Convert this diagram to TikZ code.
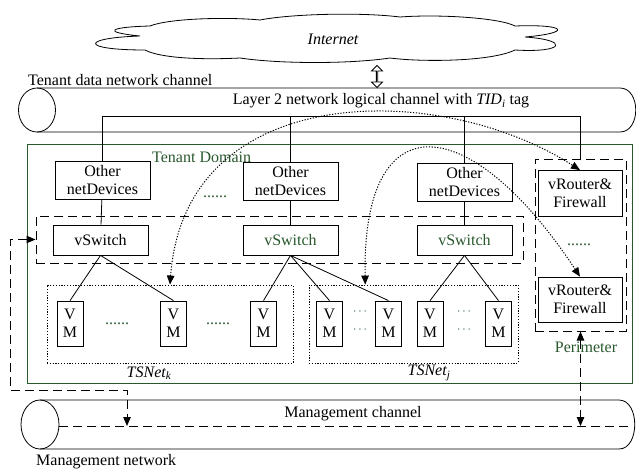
\documentclass[tikz,border=0pt]{standalone}
\usepackage{fontspec}
\setmainfont{Liberation Serif}
\usepackage{tikz}
\usetikzlibrary{positioning, shapes.geometric, shapes.arrows, arrows.meta, calc}
\definecolor{domgreen}{RGB}{40,88,44}

\begin{document}
\begin{tikzpicture}[
  x=1pt, y=-1pt,
  >={Triangle[length=9pt,width=7.5pt]},
  every node/.style={font=\fontsize{16}{18}\selectfont, inner sep=0pt},
  devbox/.style={draw, line width=0.8pt, minimum width=95pt, minimum height=38pt, align=center},
  swbox/.style={draw, line width=0.8pt, minimum width=95pt, minimum height=30pt},
  vmbox/.style={draw, line width=0.8pt, minimum width=26pt, minimum height=45pt, align=center},
  rtbox/.style={draw, line width=0.8pt, minimum width=84pt, minimum height=46pt, align=center},
  dashbox/.style={draw, line width=1pt, dash pattern=on 9pt off 5pt},
  dotbox/.style={draw, line width=0.9pt, dash pattern=on 1.2pt off 1.6pt},
  link/.style={line width=0.8pt},
  dotlink/.style={line width=1pt, dash pattern=on 1.2pt off 1.6pt, <->},
  mgmtlink/.style={line width=1pt, dash pattern=on 9pt off 5pt, <->},
  green/.style={text=domgreen}
]
\useasboundingbox (0,0) rectangle (636,469);

% ---- Internet ----
\draw[link] (140,36) .. controls (100,32) and (110,27) .. (150,26)
  .. controls (170,18) and (230,17) .. (260,20)
  .. controls (290,14) and (360,12) .. (400,17)
  .. controls (440,14) and (500,18) .. (515,26)
  .. controls (568,24) and (572,33) .. (525,37)
  .. controls (570,40) and (565,53) .. (515,50)
  .. controls (490,62) and (420,62) .. (390,58)
  .. controls (350,64) and (280,64) .. (240,58)
  .. controls (200,60) and (160,58) .. (145,50)
  .. controls (80,50) and (80,38) .. (140,36) -- cycle;
\node (internet) at (333,39) {\itshape Internet};
\node[double arrow, draw, line width=0.8pt, rotate=90, minimum height=22pt, minimum width=11pt,
      double arrow head extend=3pt, double arrow head indent=0pt] (updown) at (377,76.5) {};

% ---- Tenant data network channel ----
\node[anchor=west] (tdlabel) at (28,80) {Tenant data network channel};
\draw[link] (37,88) -- (620,88) .. controls (641,88) and (641,132) .. (620,132) -- (37,132);
\draw[link] (37,110) ellipse[x radius=18.5, y radius=22];
\node (l2label) at (381,101) {Layer 2 network logical channel with \textit{TID\textsubscript{i}} tag};
\coordinate (trunk) at (0,116);

% ---- Tenant domain ----
\node[draw=domgreen, line width=0.9pt, minimum width=605pt, minimum height=239pt] (domain) at (329.5,263.5) {};
\node[green, anchor=west] (domlabel) at (152,157) {Tenant Domain};

\node[devbox] (oth1) at (102.5,180) {Other\\netDevices};
\node[devbox] (oth2) at (290.5,181) {Other\\netDevices};
\node[devbox] (oth3) at (464.5,182) {Other\\netDevices};
\node[green] (odots) at (215,197) {......};

\node[dashbox, minimum width=487pt, minimum height=47pt] (swgroup) at (279.5,239.5) {};
\node[swbox] (sw1) at (100.5,240) {vSwitch};
\node[swbox, green] (sw2) at (290.5,240) {vSwitch};
\node[swbox, green] (sw3) at (464.5,240) {vSwitch};

% ---- TSNets ----
\node[dotbox, minimum width=246pt, minimum height=78pt] (tsk) at (170,324) {};
\node[dotbox, minimum width=209pt, minimum height=78pt] (tsj) at (413.5,324) {};
\node (tsklabel) at (149,373) {\textit{TSNet\textsubscript{k}}};
\node (tsjlabel) at (429,373) {\textit{TSNet\textsubscript{j}}};

\node[vmbox] (vm1) at (70,323.5) {V\\M};
\node[vmbox] (vm2) at (173.5,323.5) {V\\M};
\node[vmbox] (vm3) at (263.5,323.5) {V\\M};
\node[green] (kdots1) at (117,324) {......};
\node[green] (kdots2) at (218,324) {......};

\node[vmbox] (vm4) at (329.5,323.5) {V\\M};
\node[vmbox] (vm5) at (388.5,323.5) {V\\M};
\node[vmbox] (vm6) at (430,323.5) {V\\M};
\node[vmbox] (vm7) at (498.5,323.5) {V\\M};
\foreach \dx/\dy in {360/312, 360/330, 464/312, 464/330}
  \node[green, font=\fontsize{12}{14}\selectfont] at (\dx,\dy) {$\cdots$};

% ---- Perimeter ----
\node[dashbox, minimum width=91pt, minimum height=172pt] (perim) at (580.5,245) {};
\node[rtbox] (vr1) at (580,193.5) {vRouter\&\\Firewall};
\node[rtbox, minimum height=45pt] (vr2) at (580,299.5) {vRouter\&\\Firewall};
\node[green] (pdots) at (579,245) {......};
\node[green] (perlabel) at (586,347) {Perimeter};

% ---- Links ----
\draw[link] (oth1.north) |- (perim.north |- trunk) -- (perim.north);
\draw[link] (oth2.north) -- (oth2.north |- trunk);
\draw[link] (oth3.north) -- (oth3.north |- trunk);
\draw[link] (oth1) -- (sw1);
\draw[link] (oth2) -- (sw2);
\draw[link] (oth3) -- (sw3);
\draw[link] (sw1.south) -- (vm1.north);
\draw[link] (sw1.south) -- (vm2.north);
\draw[link] (sw2.south) -- (vm3.north);
\draw[link] (sw2.south) -- (vm4.north);
\draw[link] (sw2.south) -- (vm5.north);
\draw[link] (sw3.south) -- (vm6.north);
\draw[link] (sw3.south) -- (vm7.north);

\draw[dotlink] (tsk.north) .. controls (185,80) and (440,80) .. (vr1.north);
\draw[dotlink] ($(tsj.north west)!0.27!(tsj.north east)$) .. controls (362,100) and (470,110) .. (vr2.north);

% ---- Management channel ----
\draw[link] (40,400) -- (619,400) .. controls (640,400) and (640,449) .. (619,449) -- (40,449);
\draw[link] (40,424.5) ellipse[x radius=19, y radius=24.5];
\node (mglabel) at (353,414) {Management channel};
\node[anchor=west] (mnlabel) at (36,462) {Management network};
\coordinate (mgl) at (59,426);
\coordinate (mgr) at (630,426);
\coordinate (mgA) at (127,426);
\coordinate (mgbend) at (10,390);
\draw[line width=1pt, dash pattern=on 9pt off 5pt] (mgl) -- (mgr);

\draw[mgmtlink] (swgroup.west) -| (mgbend) -| (mgA);
\draw[mgmtlink] (perim.south) -- (perim.south |- mgA);

\end{tikzpicture}
\end{document}
